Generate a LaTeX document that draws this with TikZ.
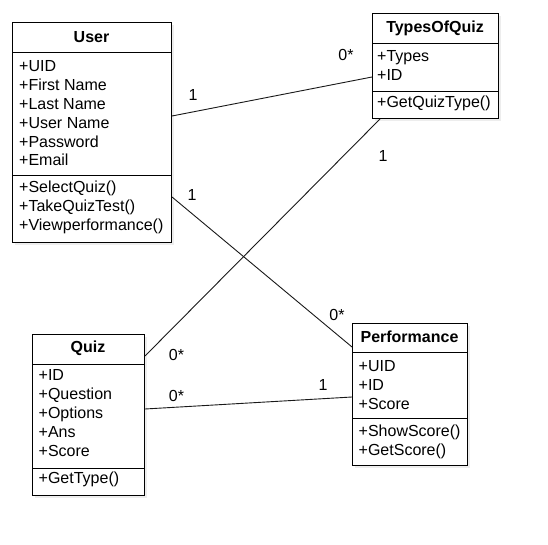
\documentclass[tikz,border=0pt]{standalone}
\usepackage{fontspec}
\setmainfont{Liberation Sans}
\begin{document}
\begin{tikzpicture}[x=1pt,y=-1pt,
  boxframe/.style={draw=black, line width=1pt, fill=white},
  boxshadow/.style={fill=black!7},
  attr/.style={anchor=base west, inner sep=0pt, font=\fontsize{16}{19}\selectfont},
  title/.style={anchor=base, inner sep=0pt, font=\fontsize{16}{19}\selectfont\bfseries},
  conn/.style={line width=0.9pt, draw=black!90},
  mult/.style={inner sep=0pt, font=\fontsize{16}{19}\selectfont}]
\useasboundingbox (0,0) rectangle (548,545);
\fill[white] (0,0) rectangle (548,545);

% ---------- User ----------
\fill[boxshadow] (15,25) rectangle (174,245);
\node[boxframe, anchor=north west, minimum width=159pt, minimum height=220pt, inner sep=0pt] (User) at (12,22) {};
\draw[line width=1pt] (User.west |- {(0,53)}) -- (User.east |- {(0,53)});
\draw[line width=1pt] (User.west |- {(0,176)}) -- (User.east |- {(0,176)});
\node[title] (Ut) at (91.5,42.3) {User};
\node[attr] (U1) at (19,72) {+UID};
\node[attr] (U2) at (19,91) {+First Name};
\node[attr] (U3) at (19,109.5) {+Last Name};
\node[attr] (U4) at (19,128.3) {+User Name};
\node[attr] (U5) at (19,147.2) {+Password};
\node[attr] (U6) at (19,166) {+Email};
\node[attr] (U7) at (19,192.7) {+SelectQuiz()};
\node[attr] (U8) at (19,211.5) {+TakeQuizTest()};
\node[attr] (U9) at (19,230.3) {+Viewperformance()};

% ---------- TypesOfQuiz ----------
\fill[boxshadow] (375,16) rectangle (501,121);
\node[boxframe, anchor=north west, minimum width=126pt, minimum height=105pt, inner sep=0pt] (Types) at (372,13) {};
\draw[line width=1pt] (Types.west |- {(0,44)}) -- (Types.east |- {(0,44)});
\draw[line width=1pt] (Types.west |- {(0,92)}) -- (Types.east |- {(0,92)});
\node[title] (Tt) at (435,32.3) {TypesOfQuiz};
\node[attr] (T1) at (377,62) {+Types};
\node[attr] (T2) at (377,81) {+ID};
\node[attr] (T3) at (377,107.7) {+GetQuizType()};

% ---------- Quiz ----------
\fill[boxshadow] (35,337) rectangle (147,498);
\node[boxframe, anchor=north west, minimum width=112pt, minimum height=161pt, inner sep=0pt] (Quiz) at (32,334) {};
\draw[line width=1pt] (Quiz.west |- {(0,364)}) -- (Quiz.east |- {(0,364)});
\draw[line width=1pt] (Quiz.west |- {(0,468)}) -- (Quiz.east |- {(0,468)});
\node[title] (Qt) at (88,352.3) {Quiz};
\node[attr] (Q1) at (38.5,380.7) {+ID};
\node[attr] (Q2) at (38.5,399.5) {+Question};
\node[attr] (Q3) at (38.5,418.3) {+Options};
\node[attr] (Q4) at (38.5,437.2) {+Ans};
\node[attr] (Q5) at (38.5,456) {+Score};
\node[attr] (Q6) at (38.5,483.3) {+GetType()};

% ---------- Performance ----------
\fill[boxshadow] (355,325.5) rectangle (470,468);
\node[boxframe, anchor=north west, minimum width=115pt, minimum height=142.5pt, inner sep=0pt] (Perf) at (352,322.5) {};
\draw[line width=1pt] (Perf.west |- {(0,352.8)}) -- (Perf.east |- {(0,352.8)});
\draw[line width=1pt] (Perf.west |- {(0,418.5)}) -- (Perf.east |- {(0,418.5)});
\node[title] (Pt) at (409.5,342.5) {Performance};
\node[attr] (P1) at (358.5,371) {+UID};
\node[attr] (P2) at (358.5,390) {+ID};
\node[attr] (P3) at (358.5,409) {+Score};
\node[attr] (P4) at (358.5,436.7) {+ShowScore()};
\node[attr] (P5) at (358.5,455.5) {+GetScore()};

% ---------- connectors ----------
\draw[conn] (User.east |- {(0,116)}) -- (Types.west |- {(0,77)});
\draw[conn] (Types.south west -| {(380,0)}) -- (Quiz.east |- {(0,356)});
\draw[conn] (User.east |- {(0,197)}) -- (Perf.west |- {(0,347)});
\draw[conn] (Quiz.east |- {(0,409)}) -- (Perf.west |- {(0,397)});

% ---------- multiplicities ----------
\node[mult] (m1) at (193,95) {1};
\node[mult] (m2) at (346,55) {0*};
\node[mult] (m3) at (383,156) {1};
\node[mult] (m4) at (176.5,355) {0*};
\node[mult] (m5) at (192,195) {1};
\node[mult] (m6) at (337,315) {0*};
\node[mult] (m7) at (176.5,396) {0*};
\node[mult] (m8) at (323,385) {1};
\end{tikzpicture}
\end{document}
